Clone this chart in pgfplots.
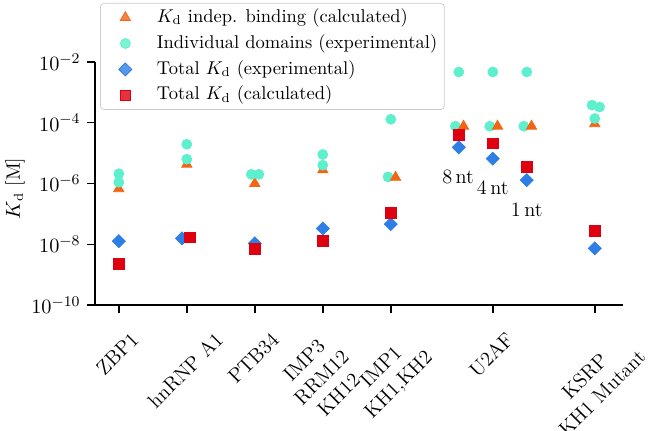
\documentclass[border=0pt]{standalone}
\usepackage{pgfplots}
\usepackage{graphicx}
\pgfplotsset{compat=1.18}
\definecolor{cTri}{RGB}{242,101,20}
\definecolor{cCirc}{RGB}{94,240,204}
\definecolor{cDia}{RGB}{45,127,230}
\definecolor{cSq}{RGB}{222,0,16}
\newcommand{\rl}[1]{\rotatebox{45}{\begin{tabular}{@{}c@{}}#1\end{tabular}}}
\newcommand{\tfont}{\fontsize{11}{13.2}\selectfont}
\begin{document}
\begin{tikzpicture}
\begin{axis}[
  at={(0,0)}, anchor=south west,
  scale only axis, width=285.4pt, height=131.35pt,
  xmin=-0.35, xmax=7.415,
  ymode=log, log basis y=10, ymin=1e-10, ymax=1e-2,
  ytick={1e-10,1e-8,1e-6,1e-4,1e-2},
  yminorticks=false,
  xtick={0,1,2,3,4,5.5,7},
  xticklabels={\rl{ZBP1},\rl{hnRNP A1},\rl{PTB34},{\rl{IMP3\\RRM12\\KH12}},{\rl{IMP1\\KH1,KH2}},\rl{U2AF},{\rl{KSRP\\KH1 Mutant}}},
  axis x line*=bottom, axis y line*=left,
  axis line style={line width=0.9pt, black},
  tick align=outside, major tick length=4.3pt,
  tick style={black, line width=0.8pt},
  ticklabel style={font=\tfont},
  xticklabel style={anchor=north, inner sep=0pt, yshift=-8.5pt},
  clip=false,
  legend cell align=left,
  legend image code/.code={\path[draw=none,fill=none] (-9.7pt,0pt) -- (6pt,0pt); \draw[#1] plot coordinates {(0pt,0pt)};},
  legend style={at={(rel axis cs:0.0095,1.243)}, anchor=north west,
    draw=black!20, rounded corners=2pt, fill=white, fill opacity=0.8, text opacity=1,
    inner xsep=3.8pt, inner ysep=2.7pt, row sep=4pt,
    nodes={inner sep=0pt, text height=7.5pt, text depth=2.5pt},
    /tikz/every odd column/.append style={column sep=11.1pt}},
]
% triangles (K_d indep. binding, calculated)
\addplot[only marks, mark=triangle*, mark size=3.2pt, color=cTri] coordinates {
  (0,6.7e-7) (1,4.3e-6) (2,1.0e-6) (3,2.8e-6) (7,9.3e-5)};
\addlegendentry{$K_\mathrm{d}$ indep. binding (calculated)}
% circles (individual domains)
\addplot[only marks, mark=*, mark size=2.7pt, color=cCirc] coordinates {
  (0,2.1e-6) (0,1.1e-6)
  (1,1.96e-5) (1,6.3e-6)
  (1.95,2.0e-6) (2.06,2.0e-6)
  (3,9.0e-6) (3,4.0e-6)
  (4,1.3e-4) (3.96,1.65e-6)
  (5.0,4.7e-3) (4.95,7.7e-5)
  (5.5,4.7e-3) (5.456,7.7e-5)
  (6.0,4.7e-3) (5.956,7.7e-5)
  (6.96,3.8e-4) (7.07,3.3e-4) (7.0,1.38e-4)};
\addlegendentry{Individual domains (experimental)}
\addplot[only marks, mark=triangle*, mark size=3.2pt, color=cTri, forget plot] coordinates {
  (4.07,1.6e-6) (5.07,7.7e-5) (5.57,7.7e-5) (6.07,7.7e-5)};
% diamonds (total, experimental)
\addplot[only marks, mark=square*, mark size=2.48pt, mark options={rotate=45}, color=cDia] coordinates {
  (0,1.26e-8) (0.93,1.56e-8) (2,1.07e-8) (3,3.3e-8) (4,4.6e-8)
  (5,1.56e-5) (5.5,6.6e-6) (6,1.3e-6) (7,7.3e-9)};
\addlegendentry{Total $K_\mathrm{d}$ (experimental)}
% squares (total, calculated)
\addplot[only marks, mark=square*, mark size=2.9pt, color=cSq] coordinates {
  (0,2.3e-9) (1.04,1.68e-8) (2,6.9e-9) (3,1.26e-8) (4,1.08e-7)
  (5,3.9e-5) (5.5,2.1e-5) (6,3.5e-6) (7,2.7e-8)};
\addlegendentry{Total $K_\mathrm{d}$ (calculated)}
\node[font=\tfont] at (axis cs:4.99,1.66e-6) {8\,nt};
\node[font=\tfont] at (axis cs:5.5,7.1e-7) {4\,nt};
\node[font=\tfont] at (axis cs:6.0,1.32e-7) {1\,nt};
\node[rotate=90, anchor=center, font=\fontsize{10.5}{12}\selectfont] at (rel axis cs:-0.1515,0.48) {$K_\mathrm{d}$ [M]};
\end{axis}
\pgfresetboundingbox
\useasboundingbox (-51.35pt,-68.1pt) rectangle (300pt,164.86pt);
\end{tikzpicture}
\end{document}
